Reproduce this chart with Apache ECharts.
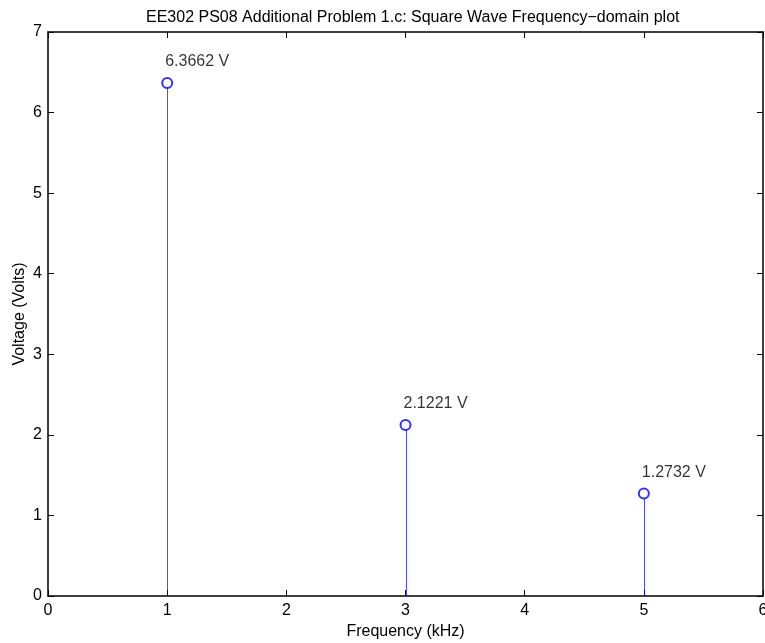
<!DOCTYPE html>
<html lang="en">

<head>
    <meta charset="UTF-8">
    <title>Square Wave Frequency-domain plot</title>
    <script src="https://cdn.jsdelivr.net/npm/echarts@6.0.0/dist/echarts.min.js"></script>
</head>

<body style="margin:0;background:#fff;">
    <div id="main" style="width: 765px;height:643px;"></div>

    <script type="text/javascript">
        // harmonic frequencies (kHz) and amplitudes (V)
        const freqs = [1, 3, 5];
        const volts = [6.3662, 2.1221, 1.2732];
        const xTicks = [0, 1, 2, 3, 4, 5, 6];
        const yTicks = [0, 1, 2, 3, 4, 5, 6, 7];

        const font = 'Liberation Sans, Arial, sans-serif';
        const fs = 16;
        const stemColor = '#0000ff';

        let myChart = echarts.init(document.getElementById('main'));

        const points = freqs.map((f, i) => [f, volts[i]]);

        const inTick = { show: true, inside: true, length: 6, lineStyle: { color: '#000', width: 1 } };
        const blackLine = { show: true, onZero: false, lineStyle: { color: '#000', width: 1.5 } };

        let options = {
            animation: false,
            backgroundColor: '#fff',
            title: {
                text: 'EE302 PS08 Additional Problem 1.c: Square Wave Frequency\u2212domain plot',
                left: 141,
                top: 5,
                textStyle: { fontFamily: font, fontSize: fs, fontWeight: 'normal', color: '#000' }
            },
            grid: { left: 48, right: 2, top: 32, bottom: 47, outerBoundsMode: 'none', containLabel: false },
            xAxis: [{
                type: 'value',
                min: xTicks[0], max: xTicks[xTicks.length - 1], interval: 1,
                name: 'Frequency (kHz)', nameLocation: 'middle', nameGap: 24,
                nameTextStyle: { fontFamily: font, fontSize: fs, color: '#000' },
                axisLine: blackLine, axisTick: inTick,
                axisLabel: { fontFamily: font, fontSize: fs, color: '#000', margin: 7, showMaxLabel: true, hideOverlap: false },
                splitLine: { show: false }
            }, {
                type: 'value', position: 'top',
                min: xTicks[0], max: xTicks[xTicks.length - 1], interval: 1,
                axisLine: blackLine, axisTick: inTick,
                axisLabel: { show: false }, splitLine: { show: false }
            }],
            yAxis: [{
                type: 'value',
                min: yTicks[0], max: yTicks[yTicks.length - 1], interval: 1,
                name: 'Voltage (Volts)', nameLocation: 'middle', nameGap: 20,
                nameMoveOverlap: false,
                nameTextStyle: { fontFamily: font, fontSize: fs, color: '#000' },
                axisLine: blackLine, axisTick: inTick,
                axisLabel: { fontFamily: font, fontSize: fs, color: '#000', margin: 6 },
                splitLine: { show: false }
            }, {
                type: 'value', position: 'right',
                min: yTicks[0], max: yTicks[yTicks.length - 1], interval: 1,
                axisLine: blackLine, axisTick: inTick,
                axisLabel: { show: false }, splitLine: { show: false }
            }],
            series: [{
                // stems: vertical line from 0 to the value, snapped to a pixel
                type: 'custom',
                data: points,
                silent: true,
                z: 2,
                renderItem: (params, api) => {
                    const top = api.coord([api.value(0), api.value(1)]);
                    const base = api.coord([api.value(0), 0]);
                    const x = Math.round(top[0]) + 0.5;
                    return {
                        type: 'line',
                        shape: { x1: x, y1: base[1], x2: x, y2: top[1] + 5 },
                        style: { stroke: stemColor, lineWidth: 1, opacity: 0.7 }
                    };
                }
            }, {
                // circle markers with value labels
                type: 'scatter',
                data: points,
                symbol: 'emptyCircle',
                symbolSize: 10,
                itemStyle: { color: stemColor, borderColor: stemColor, borderWidth: 1 },
                label: {
                    show: true,
                    position: [4, -15],
                    align: 'left',
                    verticalAlign: 'middle',
                    fontFamily: font,
                    fontSize: fs,
                    color: '#000',
                    formatter: p => p.value[1].toFixed(4) + ' V'
                },
                z: 3
            }]
        };

        myChart.setOption(options);
    </script>
</body>

</html>
